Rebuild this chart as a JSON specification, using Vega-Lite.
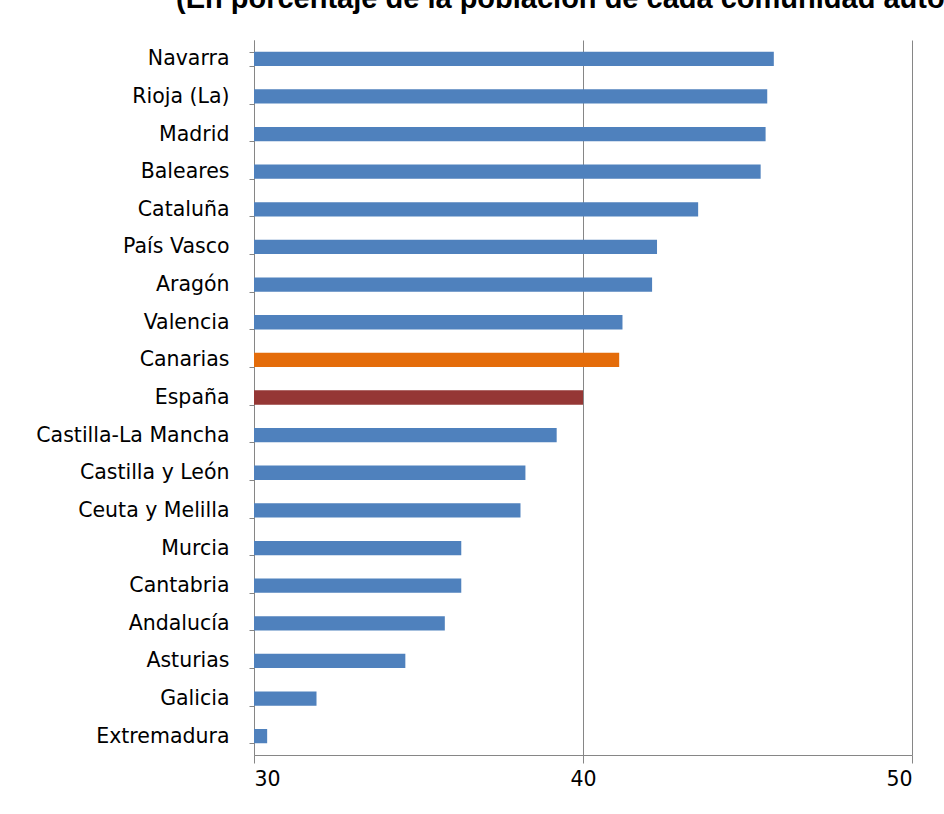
{
  "$schema": "https://vega.github.io/schema/vega-lite/v6.json",
  "autosize": "none",
  "width": 658,
  "height": 715,
  "padding": {"left": 254, "top": 40, "right": 32, "bottom": 59},
  "background": "#ffffff",
  "title": {
    "text": "(En porcentaje de la población de cada comunidad autónoma)",
    "anchor": "start",
    "frame": "group",
    "dx": -78,
    "offset": 16,
    "font": "Liberation Sans",
    "fontSize": 29,
    "fontWeight": "bold",
    "color": "#000000"
  },
  "data": {
    "values": [
      {"region": "Navarra", "valor": 45.8, "grupo": "ccaa"},
      {"region": "Rioja (La)", "valor": 45.6, "grupo": "ccaa"},
      {"region": "Madrid", "valor": 45.55, "grupo": "ccaa"},
      {"region": "Baleares", "valor": 45.4, "grupo": "ccaa"},
      {"region": "Cataluña", "valor": 43.5, "grupo": "ccaa"},
      {"region": "País Vasco", "valor": 42.25, "grupo": "ccaa"},
      {"region": "Aragón", "valor": 42.1, "grupo": "ccaa"},
      {"region": "Valencia\u00a0", "valor": 41.2, "grupo": "ccaa"},
      {"region": "Canarias", "valor": 41.1, "grupo": "Canarias"},
      {"region": "España", "valor": 40.0, "grupo": "España"},
      {"region": "Castilla-La Mancha", "valor": 39.2, "grupo": "ccaa"},
      {"region": "Castilla y León", "valor": 38.25, "grupo": "ccaa"},
      {"region": "Ceuta y Melilla", "valor": 38.1, "grupo": "ccaa"},
      {"region": "Murcia\u00a0", "valor": 36.3, "grupo": "ccaa"},
      {"region": "Cantabria", "valor": 36.3, "grupo": "ccaa"},
      {"region": "Andalucía", "valor": 35.8, "grupo": "ccaa"},
      {"region": "Asturias\u00a0", "valor": 34.6, "grupo": "ccaa"},
      {"region": "Galicia\u00a0", "valor": 31.9, "grupo": "ccaa"},
      {"region": "Extremadura", "valor": 30.4, "grupo": "ccaa"}
    ]
  },
  "mark": {"type": "bar", "clip": true},
  "encoding": {
    "y": {
      "field": "region",
      "type": "nominal",
      "sort": null,
      "scale": {"paddingInner": 0.62, "paddingOuter": 0.31},
      "axis": {
        "title": null,
        "domainColor": "#868686",
        "tickColor": "#868686",
        "tickSize": 5,
        "tickBand": "extent",
        "labelPadding": 20,
        "labelLimit": 400,
        "labelFont": "DejaVu Sans",
        "labelFontSize": 20.5,
        "labelColor": "#000000",
        "grid": false
      }
    },
    "x": {
      "field": "valor",
      "type": "quantitative",
      "scale": {"domain": [30, 50], "zero": false, "nice": false},
      "axis": {
        "title": null,
        "values": [30, 40, 50],
        "domainColor": "#868686",
        "tickColor": "#868686",
        "tickSize": 8,
        "labelPadding": 6,
        "labelFont": "DejaVu Sans",
        "labelFontSize": 20.5,
        "labelColor": "#000000",
        "grid": true,
        "gridColor": "#868686",
        "gridOpacity": 1
      }
    },
    "color": {
      "field": "grupo",
      "type": "nominal",
      "scale": {"domain": ["ccaa", "Canarias", "España"], "range": ["#4F81BD", "#E46C0A", "#953735"]},
      "legend": null
    }
  },
  "config": {"view": {"stroke": null}}
}
